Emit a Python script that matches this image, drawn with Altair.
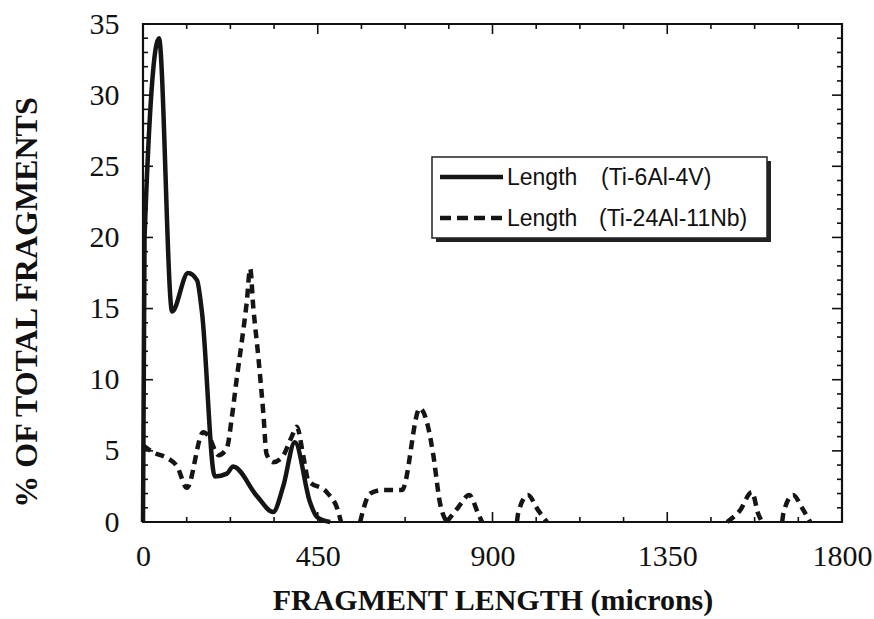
import altair as alt
import pandas as pd

# ---- data ----
solid_x = [0, 4, 41, 75, 116, 139, 152, 185, 216, 232, 294, 335, 361, 391, 430, 448, 482]
solid_y = [0, 20, 34, 14.8, 17.5, 17.0, 14.7, 3.2, 3.4, 3.9, 1.8, 0.7, 2.5, 5.6, 1.4, 0.35, 0]

dash_x = [0, 26, 62, 88, 113, 155, 167, 195, 216, 229, 241, 255, 267, 276, 284, 297, 310, 318,
          335, 357, 383, 396, 413, 426, 473, 502, 510,
          559, 585, 619, 667, 713, 734, 747, 765, 782,
          782, 811, 840, 863, 873,
          963, 966, 991, 1017, 1040,
          1504, 1537, 1568, 1584, 1594,
          1646, 1649, 1674, 1697, 1718]
dash_y = [5.4, 4.9, 4.5, 3.9, 2.4, 6.3, 6.1, 4.7, 5.2, 7.4, 10, 12.8, 15.4, 17.8, 15.1, 11.6, 7.6, 4.8,
          4.2, 4.5, 6.0, 6.7, 4.6, 2.9, 2.1, 0.8, 0,
          0, 2.0, 2.25, 2.25, 8.0, 6.7, 4.8, 1.3, 0,
          0, 1.0, 1.9, 0.6, 0,
          0, 0.6, 1.9, 0.85, 0,
          0, 0.8, 2.1, 0.6, 0,
          0, 0.6, 1.9, 1.0, 0]
dash_seg = [0] * 27 + [1] * 9 + [2] * 5 + [3] * 5 + [4] * 5 + [5] * 5

x_major = [0, 450, 900, 1350, 1800]
x_minor = [112.5, 225, 337.5, 562.5, 675, 787.5, 1012.5, 1125, 1237.5, 1462.5, 1575, 1687.5]
y_major = [0, 5, 10, 15, 20, 25, 30, 35]
y_minor = [v for v in range(0, 36) if v % 5 != 0]

series_names = ["Length   (Ti-6Al-4V)", "Length   (Ti-24Al-11Nb)"]

W, H = 699, 498
SERIF = "Liberation Serif"
SANS = "Liberation Sans"

xs = alt.Scale(domain=[0, 1800], nice=False, zero=False)
ys = alt.Scale(domain=[0, 35], nice=False, zero=False)

df_s = pd.DataFrame({"x": solid_x, "y": solid_y})
df_d = pd.DataFrame({"x": dash_x, "y": dash_y, "seg": dash_seg})

solid = alt.Chart(df_s).mark_line(
    color="#151515", strokeWidth=4.5, interpolate="monotone", strokeJoin="round"
).encode(
    x=alt.X("x:Q", scale=xs, axis=alt.Axis(
        values=x_major, format="d", title="FRAGMENT LENGTH (microns)", ticks=False, domain=False,
        grid=False, labelFont=SERIF, labelFontSize=30, labelColor="#111", labelPadding=19,
        titleFont=SERIF, titleFontSize=30, titleFontWeight="bold", titleColor="#111",
        titlePadding=14, labelFlush=False)),
    y=alt.Y("y:Q", scale=ys, axis=alt.Axis(
        values=y_major, format="d", title="% OF TOTAL FRAGMENTS", ticks=False, domain=False,
        grid=False, labelFont=SERIF, labelFontSize=30, labelColor="#111", labelPadding=24,
        titleFont=SERIF, titleFontSize=32, titleFontWeight="bold", titleColor="#111",
        titlePadding=46, titleY=278)),
)

dashed = alt.Chart(df_d).mark_line(
    color="#151515", strokeWidth=4.5, strokeDash=[9, 6], interpolate="monotone"
).encode(x=alt.X("x:Q", scale=xs), y=alt.Y("y:Q", scale=ys), detail="seg:N")

def vrules(vals, y0, y1, w=1.6):
    return alt.Chart(pd.DataFrame({"v": vals})).mark_rule(color="#111", strokeWidth=w).encode(
        x=alt.X("v:Q", scale=xs), y=alt.value(y0), y2=alt.value(y1))

def hrules(vals, x0, x1, w=1.6):
    return alt.Chart(pd.DataFrame({"v": vals})).mark_rule(color="#111", strokeWidth=w).encode(
        y=alt.Y("v:Q", scale=ys), x=alt.value(x0), x2=alt.value(x1))

ticks = [
    vrules(x_major, H, H - 10), vrules(x_minor, H, H - 5),
    vrules(x_major, 0, 10), vrules(x_minor, 0, 5),
    hrules(y_major, 0, 10), hrules(y_minor, 0, 5),
    hrules(y_major, W, W - 10), hrules(y_minor, W, W - 5),
]

# ---- legend box (drawn in pixel space of the plot area) ----
LX0, LY0 = 432 - 143, 157 - 24
LX1, LY1 = 767 - 143, 238 - 24
leg_df = pd.DataFrame({"name": series_names})
shadow = alt.Chart(leg_df.head(1)).mark_rect(color="#222").encode(
    x=alt.value(LX0 + 4), x2=alt.value(LX1 + 4), y=alt.value(LY0 + 4), y2=alt.value(LY1 + 4))
box = alt.Chart(leg_df.head(1)).mark_rect(fill="white", stroke="#222", strokeWidth=1.5).encode(
    x=alt.value(LX0), x2=alt.value(LX1), y=alt.value(LY0), y2=alt.value(LY1))
row1_y = 177 - 24
row2_y = 218 - 24
leg_solid = alt.Chart(leg_df.head(1)).mark_rule(color="#151515", strokeWidth=4.5).encode(
    x=alt.value(440 - 143), x2=alt.value(503 - 143), y=alt.value(row1_y))
leg_dash = alt.Chart(leg_df.head(1)).mark_rule(color="#151515", strokeWidth=4.5, strokeDash=[11, 6]).encode(
    x=alt.value(440 - 143), x2=alt.value(503 - 143), y=alt.value(row2_y))

def leg_text(label, xpix, ypix):
    return alt.Chart(pd.DataFrame({"t": [label]})).mark_text(
        font=SANS, fontSize=23, color="#111", align="left", baseline="middle").encode(
        text="t:N", x=alt.value(xpix - 143), y=alt.value(ypix))

leg_texts = [
    leg_text(series_names[0].split("   ")[0], 507, row1_y + 1),
    leg_text(series_names[0].split("   ")[1], 601, row1_y + 1),
    leg_text(series_names[1].split("   ")[0], 507, row2_y + 1),
    leg_text(series_names[1].split("   ")[1], 599, row2_y + 1),
]

chart = alt.layer(
    solid, dashed, *ticks, shadow, box, leg_solid, leg_dash, *leg_texts
).properties(
    width=W, height=H,
    autosize=alt.AutoSizeParams(type="none"),
    padding={"left": 143, "top": 24, "right": 32, "bottom": 97},
    background="white",
).configure_view(stroke="#111", strokeWidth=2.2)

chart.save("out.html", embed_options={"renderer": "svg", "actions": False})
